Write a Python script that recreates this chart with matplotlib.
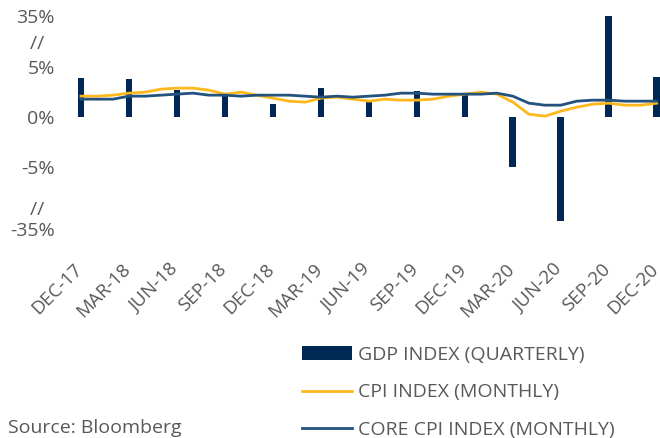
import numpy as np
import matplotlib.pyplot as plt
from matplotlib.ticker import FixedLocator
from matplotlib.transforms import ScaledTranslation

plt.rcParams['font.family'] = ['Open Sans', 'DejaVu Sans']

quarters = ['DEC-17', 'MAR-18', 'JUN-18', 'SEP-18', 'DEC-18', 'MAR-19', 'JUN-19',
            'SEP-19', 'DEC-19', 'MAR-20', 'JUN-20', 'SEP-20', 'DEC-20']
gdp = [3.9, 3.8, 2.7, 2.4, 1.3, 2.9, 1.5, 2.6, 2.4, -5.0, -31.4, 35.3, 4.0]

# monthly, dec-17 .. dec-20
cpi = [2.1, 2.1, 2.2, 2.4, 2.5, 2.8, 2.9, 2.9, 2.7, 2.3, 2.5, 2.2,
       1.9, 1.6, 1.5, 1.9, 2.0, 1.8, 1.6, 1.8, 1.7, 1.7, 1.8, 2.1,
       2.3, 2.5, 2.3, 1.5, 0.3, 0.1, 0.6, 1.0, 1.3, 1.4, 1.2, 1.2, 1.4]
core_cpi = [1.8, 1.8, 1.8, 2.1, 2.1, 2.2, 2.3, 2.4, 2.2, 2.2, 2.1, 2.2,
            2.2, 2.2, 2.1, 2.0, 2.1, 2.0, 2.1, 2.2, 2.4, 2.4, 2.3, 2.3,
            2.3, 2.3, 2.4, 2.1, 1.4, 1.2, 1.2, 1.6, 1.7, 1.7, 1.6, 1.6, 1.6]

ytick_vals = [35, 20, 5, 0, -5, -25, -35]
ytick_labels = ['35%', '//  ', '5%', '0%', '-5%', '//  ', '-35%']

gray = '#595959'


def fwd(y):
    y = np.asarray(y, dtype=float)
    return np.where(y > 5, 5 + (y - 5) * 0.17,
                    np.where(y < -5, -5 + (y + 5) * 0.205, y))


def inv(t):
    t = np.asarray(t, dtype=float)
    return np.where(t > 5, 5 + (t - 5) / 0.17,
                    np.where(t < -5, -5 + (t + 5) / 0.205, t))


fig = plt.figure(figsize=(6.6, 4.38), dpi=100)
ax = fig.add_axes([73 / 660, 1 - 239 / 438, 587 / 660, 228 / 438])
ax.set_yscale('function', functions=(fwd, inv))

xq = np.arange(len(quarters)) * 3
xm = np.arange(len(cpi))

b = ax.bar(xq, gdp, width=0.42, color='#002855', zorder=1)
l1, = ax.plot(xm, cpi, color='#FFB81C', lw=2, zorder=2)
l2, = ax.plot(xm, core_cpi, color='#24527F', lw=2, zorder=3)

ax.set_xlim(-0.5, 36.2)
ax.set_ylim(-40, 38)

ax.yaxis.set_major_locator(FixedLocator(ytick_vals))
ax.yaxis.set_minor_locator(FixedLocator([]))
ax.set_yticklabels(ytick_labels, fontsize=14, color=gray)
ax.tick_params(axis='both', length=0)
ax.tick_params(axis='x', pad=15)
ax.tick_params(axis='y', pad=13)

ax.set_xticks(xq)
ax.set_xticklabels(quarters, rotation=45, ha='right', va='top', rotation_mode='anchor',
                   fontsize=13.5, color=gray)
# nudge the slanted labels left so the ends sit on the ticks
shift = ScaledTranslation(-8 / 100, 0, fig.dpi_scale_trans)
for lab in ax.get_xticklabels():
    lab.set_transform(lab.get_transform() + shift)

for s in ax.spines.values():
    s.set_visible(False)

fig.legend([b, l1, l2],
           ['GDP INDEX (QUARTERLY)', 'CPI INDEX (MONTHLY)', 'CORE CPI INDEX (MONTHLY)'],
           loc='upper left', bbox_to_anchor=(302 / 660, 1 - 346 / 438),
           frameon=False, fontsize=14, labelcolor=gray, handlelength=2.58,
           handletextpad=0.3, labelspacing=1.0, borderpad=0, borderaxespad=0)

fig.text(8 / 660, 1 - 428 / 438, 'Source: Bloomberg', fontsize=14, color=gray,
         va='center', ha='left')

fig.savefig('out.png', dpi=100)
